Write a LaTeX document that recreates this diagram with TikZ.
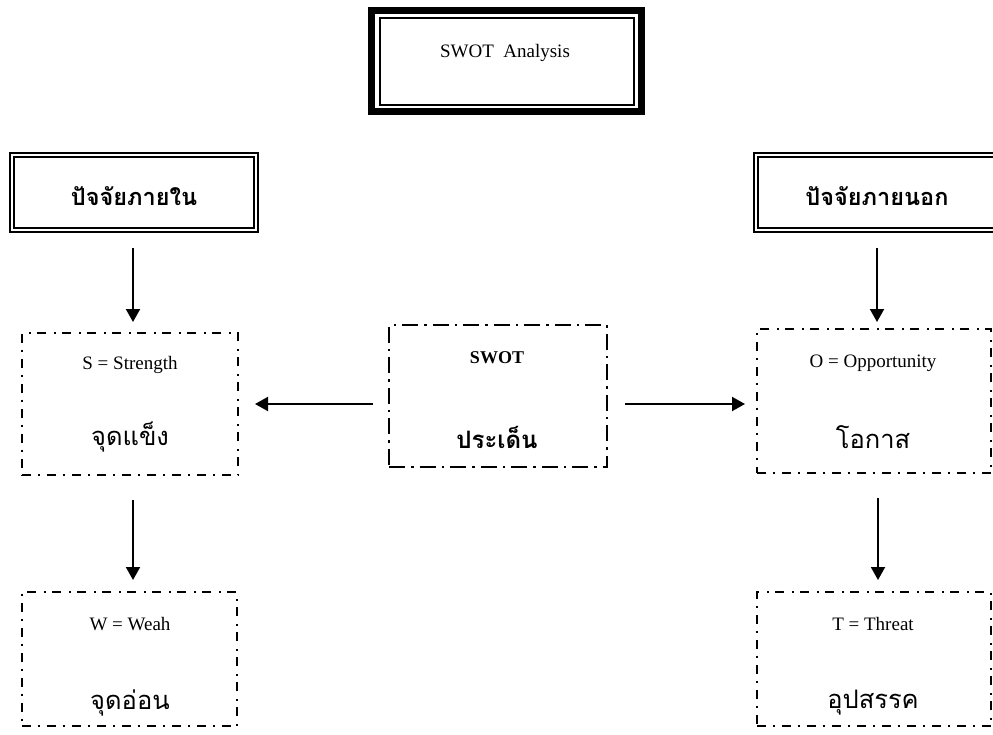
\documentclass[tikz,border=0pt]{standalone}
\usepackage{fontspec}
\setmainfont{Liberation Serif}
\newfontfamily\thaifont[Script=Thai]{Loma}
\usetikzlibrary{arrows.meta}
\tikzset{
  box/.style={draw, rectangle, inner sep=0pt, outer sep=0pt, anchor=north west},
  dd/.style={box, line width=1.9pt, dash pattern=on 9pt off 6.5pt on 2pt off 7.5pt},
  ddc/.style={box, line width=2.5pt, dash pattern=on 16pt off 6pt on 2.5pt off 6pt},
  hdr/.style={box, line width=1.4pt},
  latin/.style={font=\fontsize{19}{21}\selectfont, inner sep=0pt},
  thai/.style={font=\thaifont\fontsize{25.5}{28}\selectfont, inner sep=0pt},
  thaib/.style={font=\thaifont\bfseries\fontsize{23.5}{26}\selectfont, inner sep=0pt},
  arr/.style={-{Triangle[length=13pt,width=14pt]}, line width=2pt},
}
\begin{document}
\begin{tikzpicture}[x=1pt,y=-1pt]
\useasboundingbox (0,0) rectangle (993,734);
\clip (0,0) rectangle (993,734);
% top title box
\node[box, line width=7pt, minimum width=270pt, minimum height=101pt] (top) at (371.5,10.5) {};
\draw[line width=2pt] ([shift={(8pt,-7pt)}]top.north west) rectangle ([shift={(-8pt,7pt)}]top.south east);
\node[latin] (toptxt) at (505,53) {SWOT\ \ Analysis};
% header boxes
\node[hdr, minimum width=248pt, minimum height=79pt] (inL) at (10,153) {};
\draw[line width=2.2pt] ([shift={(4pt,-4pt)}]inL.north west) rectangle ([shift={(-4pt,4pt)}]inL.south east);
\node[thaib] (inLt) at (134,196) {ปัจจัยภายใน};
\node[hdr, minimum width=248pt, minimum height=79pt] (exR) at (754,153) {};
\draw[line width=2.2pt] ([shift={(4pt,-4pt)}]exR.north west) rectangle ([shift={(-4pt,4pt)}]exR.south east);
\node[thaib] (exRt) at (877,196) {ปัจจัยภายนอก};
% dash-dot boxes
\node[dd, minimum width=216pt, minimum height=142pt] (S) at (22,333) {};
\node[latin] (St) at (130,365) {S = Strength};
\node[thai] (Sth) at (130,437) {จุดแข็ง};
\node[ddc, minimum width=218pt, minimum height=142pt] (C) at (389,325) {};
\node[latin, font=\bfseries\fontsize{18}{20}\selectfont] (Ct) at (497,358) {SWOT};
\node[thaib, font=\thaifont\bfseries\fontsize{24}{26}\selectfont] (Cth) at (497,437) {ประเด็น};
\node[dd, minimum width=234pt, minimum height=144pt] (O) at (757,329) {};
\node[latin] (Ot) at (873,363) {O = Opportunity};
\node[thai] (Oth) at (873,437) {โอกาส};
\node[dd, minimum width=215pt, minimum height=134pt] (W) at (22,592) {};
\node[latin] (Wt) at (130,624) {W = Weah};
\node[thai] (Wth) at (130,703) {จุดอ่อน};
\node[dd, minimum width=234pt, minimum height=134pt] (T) at (757,592) {};
\node[latin] (Tt) at (873,624) {T = Threat};
\node[thai] (Tth) at (873,703) {อุปสรรค};
% arrows
\draw[arr, shorten <=16pt, shorten >=11pt] ([xshift=-1pt]inL.south) -- ([xshift=-1pt]inL.south |- S.north);
\draw[arr, shorten <=16pt, shorten >=7pt] ([xshift=123pt]exR.south west) -- ([xshift=123pt]exR.south west |- O.north);
\draw[arr, shorten <=16pt, shorten >=17pt] ([yshift=-8pt]C.west) -- ([yshift=-8pt]C.west -| S.east);
\draw[arr, shorten <=18pt, shorten >=12pt] ([yshift=-8pt]C.east) -- ([yshift=-8pt]C.east -| O.west);
\draw[arr, shorten <=25pt, shorten >=12pt] ([xshift=3pt]S.south) -- ([xshift=3pt]S.south |- W.north);
\draw[arr, shorten <=25pt, shorten >=12pt] ([xshift=4pt]O.south) -- ([xshift=4pt]O.south |- T.north);
\end{tikzpicture}
\end{document}
